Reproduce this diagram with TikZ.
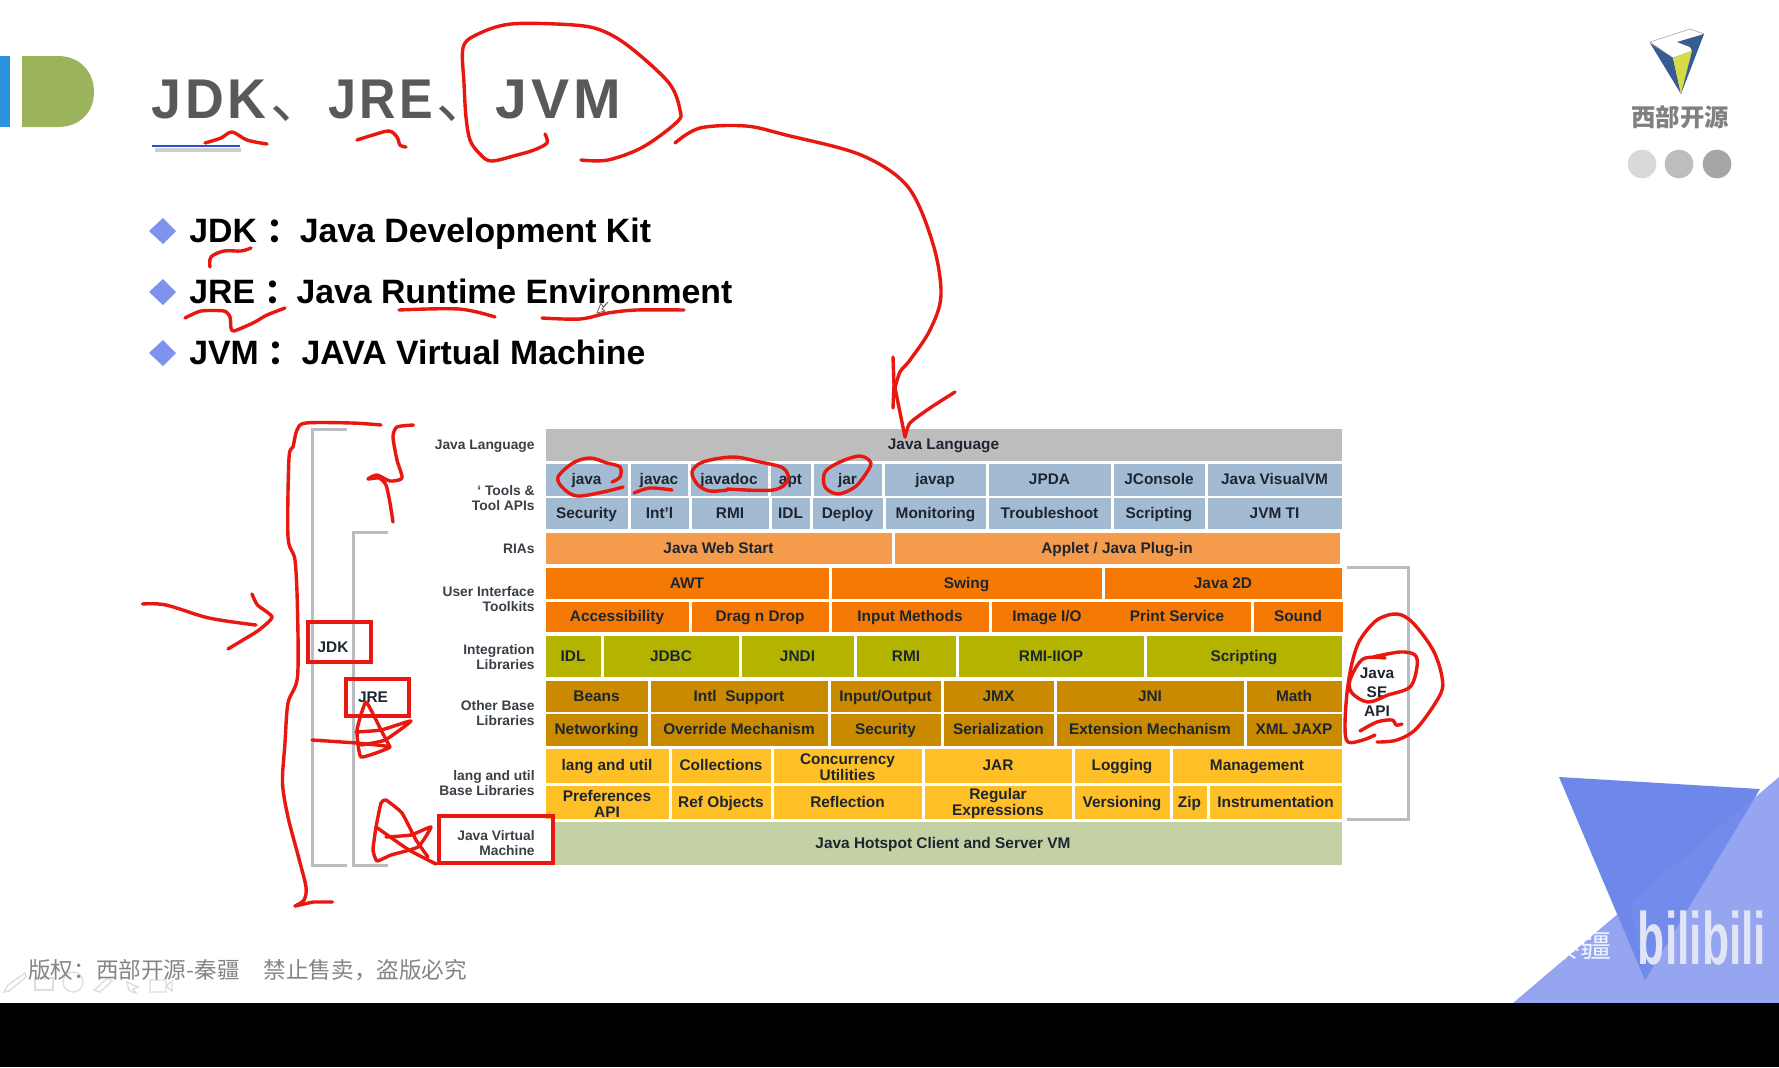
\documentclass[tikz,border=0pt]{standalone}
\usepackage{fontspec}
\usepackage{graphicx}
\setmainfont{Liberation Sans}
\newfontfamily\cjk{Noto Sans CJK SC}
\newfontfamily\titlefont[LetterSpace=7]{Liberation Sans}
\definecolor{ink}{HTML}{E8170F}
\definecolor{cgray}{HTML}{BDBDBD}
\definecolor{cblue}{HTML}{A3BBD2}
\definecolor{clorange}{HTML}{F59B4C}
\definecolor{corange}{HTML}{F57A05}
\definecolor{colive}{HTML}{B3B300}
\definecolor{cbrown}{HTML}{C98A00}
\definecolor{cyellow}{HTML}{FFBF26}
\definecolor{cgreen}{HTML}{C4D1A4}
\definecolor{brk}{HTML}{B9BDC1}
\definecolor{celltext}{HTML}{1D2630}
\definecolor{sidetext}{HTML}{3A4047}
\definecolor{bulletc}{HTML}{7F93EE}
\definecolor{icon}{HTML}{DEDEDE}
\definecolor{titlegray}{HTML}{58595B}
\definecolor{lightblue}{HTML}{96A5F0}
\definecolor{darkblue}{HTML}{6E88EA}
\definecolor{midblue}{HTML}{738CEC}
\definecolor{bililogo}{HTML}{E0E4F4}
\definecolor{markblue}{HTML}{2A93DC}
\definecolor{markgreen}{HTML}{9BB35A}
\definecolor{ulshadow}{HTML}{CDCDD2}
\definecolor{ulblue}{HTML}{2C4FC4}
\definecolor{logoblue}{HTML}{385C92}
\definecolor{logoyellow}{HTML}{D6DB46}
\tikzset{
  inkline/.style={draw=ink,line width=1.7pt,line cap=round,line join=round},
  inkbox/.style={draw=ink,line width=2pt},
  cellbox/.style={inner sep=0pt,outer sep=0pt,align=center,text=celltext,font=\fontsize{7.7}{6.9}\selectfont\bfseries},
  sidelabel/.style={anchor=east,align=right,inner sep=0pt,text=sidetext,font=\fontsize{6.9}{7.5}\selectfont\bfseries},
  bullettext/.style={anchor=base west,inner sep=0pt,text=black,font=\fontsize{16.9}{20}\selectfont\bfseries},
  titletext/.style={anchor=base west,inner sep=0pt,text=titlegray,font=\fontsize{28}{30}\titlefont\bfseries},
  bracket/.style={draw=brk,line width=1.5pt},
  sideapi/.style={inner sep=0pt,text=celltext,font=\fontsize{7.7}{9}\selectfont\bfseries},
  bulletmark/.style={fill=bulletc,draw=none},
  iconline/.style={draw=icon,line width=0.7pt},
}
\newcommand\cellrow[5]{%
  \foreach \a/\b/\t [count=\i] in {#5} {%
    \fill[#4] ({\a+1.5},#2) rectangle ({\b-1.5},#3);
    \node[cellbox] (#1\i) at ({(\a+\b)/2},{(#2+#3)/2+1}) {\vphantom{Ag}\t};
  }%
}
\newcommand\diamondmark[1]{\fill[bulletmark] (149,#1) -- (163,{#1-13}) -- (176,#1) -- (163,{#1+13}) -- cycle;}
\begin{document}
\begin{tikzpicture}[x=0.5pt,y=-0.5pt]
\useasboundingbox (0,0) rectangle (1779,1067);
\fill[white] (0,0) rectangle (1779,1067);
% corner decoration
\fill[lightblue] (1513,1003) -- (1779,777) -- (1779,1003) -- cycle;
\node[inner sep=0pt,text=white,opacity=.85,font=\cjk\fontsize{15.5}{16}\selectfont] (wm) at (1513,946) {西部开源-秦疆};
\fill[darkblue] (1559,777) -- (1760,789) -- (1645,980) -- cycle;
\fill[midblue] (1630,903) -- (1752,800) -- (1645,980) -- cycle;
\node[inner sep=0pt,text=bililogo,font=\fontsize{37}{37}\selectfont\bfseries] (bili) at (1702,938) {\scalebox{.6}[1]{bilibili}};
\fill[black] (0,1003) rectangle (1779,1067);
% top-left mark
\fill[markblue] (0,56) rectangle (10,127);
\fill[markgreen] (22,56) -- (58,56) .. controls (80,56) and (94,72) .. (94,92) .. controls (94,112) and (80,127) .. (58,127) -- (22,127) -- cycle;
% title
\node[titletext] (tjdk) at (151,118) {\scalebox{.96}[1]{JDK}\hspace{2pt}{\cjk\mdseries 、}};
\node[titletext] (tjre) at (328,118) {\scalebox{.9}[1]{JRE}\hspace{1.5pt}{\cjk\mdseries 、}};
\node[titletext] (tjvm) at (495,118) {\scalebox{1.02}[1]{JVM}};
\draw[draw=ulshadow,line width=2pt] (155,150) -- (241,150);
\draw[draw=ulblue,line width=1.3pt] (152,146) -- (240,146);
% bullets
\diamondmark{231}\diamondmark{292}\diamondmark{353}
\node[bullettext] (l1) at (189,242) {JDK\hspace{4.5pt}{\cjk ：}\hspace{0pt}Java Development Kit};
\node[bullettext] (l2) at (189,303) {JRE\hspace{4.5pt}{\cjk ：}\hspace{-0.7pt}Java Runtime Environment};
\node[bullettext] (l3) at (189,364) {JVM\hspace{4.5pt}{\cjk ：}\hspace{0pt}JAVA Virtual Machine};
% logo
\fill[white,draw=black!35,line width=0.3pt] (1650,42) -- (1690,29) -- (1704,34) -- (1692,51) -- (1673,58) -- cycle;
\fill[logoblue] (1650,43) -- (1673,58) -- (1681,94) -- cycle;
\fill[logoyellow] (1673,58) -- (1692,51) -- (1681,94) -- cycle;
\fill[logoblue] (1677,42) -- (1704,34) -- (1681,94) -- (1692,51) -- (1690,47) -- cycle;
\node[inner sep=0pt,text=black!50,font=\cjk\fontsize{12.2}{13}\selectfont\bfseries] (brand) at (1680,117) {西部开源};
\node[circle,fill=black!15,minimum size=14.3pt,inner sep=0pt] (dot1) at (1642,164) {};
\node[circle,fill=black!26,minimum size=14.3pt,inner sep=0pt] (dot2) at (1679,164) {};
\node[circle,fill=black!35,minimum size=14.3pt,inner sep=0pt] (dot3) at (1717,164) {};
% table
\cellrow{lang}{429}{461}{cgray}{544/1343/Java Language}
\cellrow{toolA}{464}{496}{cblue}{544/629/java,629/689/javac,689/769/javadoc,769/812/apt,812/883/jar,883/987/javap,987/1112/JPDA,1112/1206/JConsole,1206/1343/Java VisualVM}
\cellrow{toolB}{498}{529}{cblue}{544/629/Security,629/690/Int'l,690/770/RMI,770/811/IDL,811/884/Deploy,884/987/Monitoring,987/1112/Troubleshoot,1112/1206/Scripting,1206/1343/JVM TI}
\cellrow{ria}{533}{564}{clorange}{544/893/Java Web Start,893/1341/{Applet / Java Plug-in}}
\cellrow{ui}{568}{599}{corange}{544/830/AWT,830/1103/Swing,1103/1343/Java 2D}
\cellrow{uib}{602}{632}{corange}{544/690/Accessibility,690/830/Drag n Drop,830/990/Input Methods,990/1252/,1252/1344/Sound}
\node[cellbox] (imageio) at (1047,618) {\vphantom{Ag}{Image I/O}};
\node[cellbox] (printsvc) at (1177,618) {\vphantom{Ag}Print Service};
\cellrow{integ}{636}{677}{colive}{544/602/IDL,602/740/JDBC,740/855/JNDI,855/957/RMI,957/1145/RMI-IIOP,1145/1343/Scripting}
\cellrow{baseA}{681}{712}{cbrown}{544/649/Beans,649/829/Intl\ \ Support,829/942/{Input/Output},942/1055/JMX,1055/1245/JNI,1245/1343/Math}
\cellrow{baseB}{714}{746}{cbrown}{544/649/Networking,649/829/Override Mechanism,829/942/Security,942/1055/Serialization,1055/1245/Extension Mechanism,1245/1343/XML JAXP}
\cellrow{utilA}{749}{783}{cyellow}{544/670/lang and util,670/772/Collections,772/923/Concurrency\\Utilities,923/1073/JAR,1073/1171/Logging,1171/1343/Management}
\cellrow{utilB}{786}{819}{cyellow}{544/670/Preferences\\API,670/772/Ref Objects,772/923/Reflection,923/1073/Regular\\Expressions,1073/1171/Versioning,1171/1208/Zip,1208/1343/Instrumentation}
\fill[cgreen] (555,822) rectangle (1342,865);
\node[cellbox] (vm1) at (943,844.5) {\vphantom{Ag}Java Hotspot Client and Server VM};
% side labels
\node[sidelabel] (sl1) at (535,446) {Java Language};
\node[sidelabel] (sl2) at (535,498.5) {` Tools \&\\Tool APIs};
\node[sidelabel] (sl3) at (535,549) {RIAs};
\node[sidelabel] (sl4) at (535,599.5) {User Interface\\Toolkits};
\node[sidelabel] (sl5) at (535,657) {Integration\\Libraries};
\node[sidelabel] (sl6) at (535,713) {Other Base\\Libraries};
\node[sidelabel] (sl7) at (535,783.5) {lang and util\\Base Libraries};
\node[sidelabel] (sl8) at (535,843.5) {Java Virtual\\Machine};
% brackets
\draw[bracket] (347,429) -- (312,429) -- (312,865) -- (347,865);
\draw[bracket] (388,532) -- (353,532) -- (353,865) -- (388,865);
\draw[bracket] (1347,567) -- (1408,567) -- (1408,819) -- (1347,819);
\node[sideapi] (jdk) at (333,647) {JDK};
\node[sideapi] (jre) at (373,697) {JRE};
\node[sideapi] (sea) at (1377,673) {Java};
\node[sideapi] (seb) at (1377,692) {SE};
\node[sideapi] (sec) at (1377,711) {API};
% red boxes
\draw[inkbox] (308,622) rectangle (371,662);
\draw[inkbox] (346,679) rectangle (409,716);
\draw[inkbox] (439,816) rectangle (553,863);
% footer icons
\draw[iconline] (4,992) -- (8,985) -- (25,973) -- (26,977) -- (9,991) -- cycle;
\draw[iconline] (35,978) rectangle (53,990);
\draw[iconline] (73,982) circle (10);
\draw[iconline] (94,990) -- (108,978) -- (112,981) -- (100,992) -- cycle;
\draw[iconline] (127,982) -- (138,987) -- (133,989) -- (136,993) -- (132,992) -- (129,990) -- cycle;
\draw[iconline] (150,980) rectangle (166,992) (166,986) -- (172,981) -- (172,991) -- cycle;
\node[anchor=west,inner sep=0pt,text=black!48,font=\cjk\fontsize{11.3}{12}\selectfont] (foot) at (28,970) {版权：西部开源-秦疆\hspace{12pt}禁止售卖，盗版必究};
% cursor
\draw[draw=black!60,line width=0.4pt,fill=white] (597,313) -- (601,303) -- (603,307) -- (608,302) -- (602,309) -- (605,311) -- cycle;
% ink strokes
\draw[inkline] plot[smooth,tension=.55] coordinates {(545,134) (547,143) (534,150) (517,155) (491,161) (479,153) (470,140) (466,117) (464,83) (463,48) (476,35) (511,24) (574,25) (603,31) (631,48) (669,83) (680,110) (677,122) (643,147) (608,160) (581,160)};
\draw[inkline] plot[smooth,tension=.55] coordinates {(675,143) (700,128) (746,126) (786,135) (861,155) (908,187) (933,244) (941,295) (930,330) (910,360) (900,372) (895,388)};
\draw[inkline] (895,388) -- (905,437);
\draw[inkline] (893,357) -- (894,385) -- (893,408);
\draw[inkline] plot[smooth,tension=.4] coordinates {(905,437) (910,423) (930,408) (955,392)};
\draw[inkline] plot[smooth,tension=.55] coordinates {(205,143) (221,138) (232,132) (247,140) (267,144)};
\draw[inkline] plot[smooth,tension=.55] coordinates {(357,140) (373,135) (389,131) (397,137) (400,145) (406,147)};
\draw[inkline] plot[smooth,tension=.55] coordinates {(210,267) (211,257) (224,251) (241,251) (251,248)};
\draw[inkline] plot[smooth,tension=.4] coordinates {(185,318) (201,311) (224,311) (230,317) (231,328) (234,331) (253,323) (267,315) (285,308)};
\draw[inkline] plot[smooth,tension=.55] coordinates {(399,310) (459,309) (495,317)};
\draw[inkline] plot[smooth,tension=.55] coordinates {(542,318) (580,319) (608,313) (637,310) (684,310)};
\draw[inkline] plot[smooth,tension=.5] coordinates {(381,425) (352,423) (306,423) (297,430) (293,447) (289,458) (288,537) (295,560) (297.5,610) (297.5,677) (288,703) (285,743) (282.5,783) (288,817) (298.5,857) (306,887) (304,900) (295,906)};
\draw[inkline] (295,906) -- (313,902) -- (332.5,902);
\draw[inkline] plot[smooth,tension=.4] coordinates {(413.5,425) (397,427) (393,437) (397,460) (402,478) (390,481) (377,475) (368,479) (379,478) (386,485) (390,503) (393,522)};
\draw[inkline] plot[smooth,tension=.55] coordinates {(142.5,604) (166,605) (209,618) (256,625)};
\draw[inkline] plot[smooth,tension=.4] coordinates {(252,594) (257.5,605) (272,617) (259,630) (243,640) (228,649)};
\draw[inkline] plot[smooth,tension=.25] coordinates {(312,740) (356,743) (390,747) (361,757) (357,730) (366,702) (381,730) (390,747)};
\draw[inkline] plot[smooth,tension=.3] coordinates {(356,732) (381,730) (411,721) (385,740) (361,745)};
\draw[inkline] plot[smooth,tension=.25] coordinates {(436,864) (409,850) (376,827)};
\draw[inkline] plot[smooth,tension=.25] coordinates {(386,837) (411,835) (431,827) (418,847) (391,855) (377,861) (373,850) (376,827) (381,803) (386,800) (402,813) (416,840) (428,857)};
\draw[inkline] plot[smooth,tension=.55] coordinates {(612,482) (620,477) (620,467) (607,463) (590,458) (573,463) (558,477) (563,488) (577,496) (603,492) (623,487)};
\draw[inkline] plot[smooth,tension=.55] coordinates {(634,493) (650,488) (672,490)};
\draw[inkline] plot[smooth,tension=.55] coordinates {(727,490) (710,491) (698,485) (692,472) (703,462) (733,457) (760,462) (783,468) (788,480) (773,490) (727,489)};
\draw[inkline] plot[smooth,tension=.55] coordinates {(865,475) (871,463) (860,456) (840,462) (825,472) (825,487) (838,494) (855,487) (865,475)};
\draw[inkline] plot[smooth,tension=.55] coordinates {(1377,742) (1397,740) (1417,728) (1440,695) (1442,677) (1433,650) (1413,623) (1397,614) (1377,620) (1360,640) (1352,663) (1347,693) (1345,727) (1348,742) (1363,740) (1375,735)};
\draw[inkline] plot[smooth,tension=.55] coordinates {(1385,658) (1363,659) (1350,680) (1352,693) (1368,702) (1388,695) (1410,687) (1417,667) (1415,655) (1400,652) (1373,657)};
\draw[inkline] plot[smooth,tension=.55] coordinates {(1360,731) (1377,722) (1392,720) (1396,725) (1402,724)};
\end{tikzpicture}
\end{document}
